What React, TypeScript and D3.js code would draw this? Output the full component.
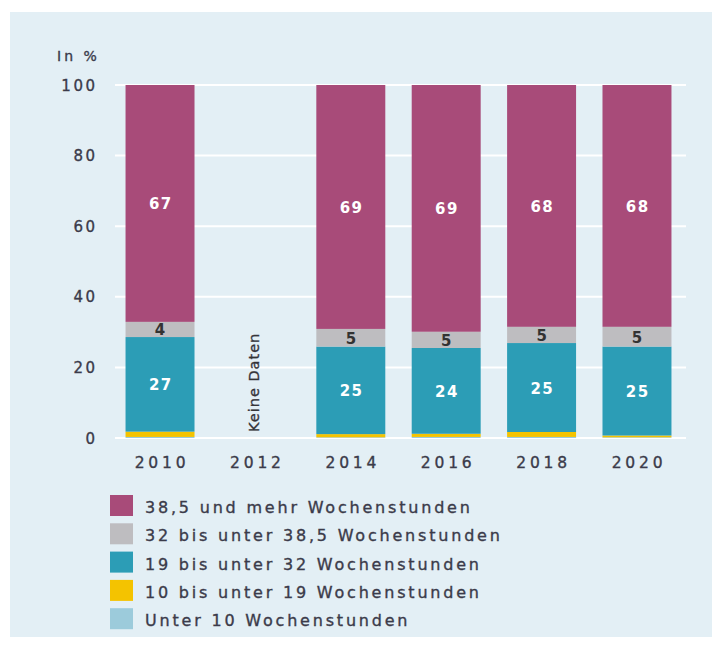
import React from "react";
import * as d3 from "d3";

const years = ["2010", "2012", "2014", "2016", "2018", "2020"];
const seriesNames = [
  "Unter 10 Wochenstunden",
  "10 bis unter 19 Wochenstunden",
  "19 bis unter 32 Wochenstunden",
  "32 bis unter 38,5 Wochenstunden",
  "38,5 und mehr Wochenstunden",
];
const under10 = [0.3, null, 0.2, 0.3, 0.3, 0.2];
const s10to19 = [1.5, null, 0.9, 0.9, 1.4, 0.5];
const s19to32 = [26.8, null, 24.8, 24.3, 25.2, 25.2];
const s32to385 = [4.3, null, 5.0, 4.6, 4.6, 5.6];
const s385plus = [67.1, null, 69.1, 69.9, 68.5, 68.5];
const labels19to32 = ["27", null, "25", "24", "25", "25"];
const labels32to385 = ["4", null, "5", "5", "5", "5"];
const labels385plus = ["67", null, "69", "69", "68", "68"];
const seriesLabels = [null, null, labels19to32, labels32to385, labels385plus];
const colors = ["#9ccbdb", "#f4c300", "#2c9db6", "#bebdc0", "#a84b79"];
const labelColors = [null, null, "#ffffff", "#333333", "#ffffff"];
const yTicks = [0, 20, 40, 60, 80, 100];
const legendOrder = [4, 3, 2, 1, 0];

export default function App() {
  const W = 712, H = 647;
  const x = d3.scaleBand().domain(years).range([116, 681]).paddingInner(0.277).paddingOuter(0.1);
  const y = d3.scaleLinear().domain([0, 100]).range([438, 85]);
  const all = [under10, s10to19, s19to32, s32to385, s385plus];
  const rows = years.map((yr, i) => {
    const r: any = { year: yr };
    all.forEach((s, k) => (r[k] = s[i] ?? 0));
    return r;
  });
  const stack = d3.stack().keys([0, 1, 2, 3, 4] as any)(rows as any);
  const font = "'DejaVu Sans', Verdana, sans-serif";
  const txt = "#3b3b4a";
  const heavy = { stroke: txt, strokeWidth: 0.35 };
  return (
    <svg width={W} height={H} style={{ position: "absolute", left: 0, top: 0, background: "#fff" }} fontFamily={font}>
      <rect x={10} y={12} width={702} height={625} fill="#e3eff5" />
      <text x={57} y={61} fontSize={14} letterSpacing={3} fill={txt} {...heavy}>In %</text>
      {yTicks.map((t) => (
        <g key={t}>
          <line x1={115} x2={686} y1={y(t)} y2={y(t)} stroke="#ffffff" strokeWidth={2} />
          <text x={97.5} y={y(t) + 5.5} textAnchor="end" fontSize={15} letterSpacing={2.5} fill={txt} {...heavy}>{t}</text>
        </g>
      ))}
      {stack.map((layer, k) => (
        <g key={k}>
          {layer.map((d, i) =>
            all[k][i] == null ? null : (
              <rect key={i} x={x(years[i])} width={x.bandwidth()} y={y(d[1])} height={y(d[0]) - y(d[1])} fill={colors[k]} />
            )
          )}
        </g>
      ))}
      {stack.map((layer, k) =>
        seriesLabels[k]
          ? layer.map((d, i) =>
              seriesLabels[k]![i] == null ? null : (
                <text key={`${k}-${i}`} x={(x(years[i]) as number) + x.bandwidth() / 2 + 0.8} y={(y(d[0]) + y(d[1])) / 2 + 6}
                  textAnchor="middle" fontSize={15} letterSpacing={1.5} fontWeight="bold" fill={labelColors[k]!}>{seriesLabels[k]![i]}</text>
              )
            )
          : null
      )}
      <text transform={`translate(${(x("2012") as number) + x.bandwidth() / 2 + 4},${432}) rotate(-90)`} fontSize={14.5} letterSpacing={1} fill="#333" {...heavy}>Keine Daten</text>
      {years.map((yr) => (
        <text key={yr} x={(x(yr) as number) + x.bandwidth() / 2 + 2} y={468} textAnchor="middle" fontSize={15.5} letterSpacing={3.8} fill={txt} {...heavy}>{yr}</text>
      ))}
      {legendOrder.map((k, j) => (
        <g key={k}>
          <rect x={110} y={495 + j * 28.3} width={23} height={21} fill={colors[k]} />
          <text x={145} y={513 + j * 28.3} fontSize={16} letterSpacing={2.8} fill={txt} {...heavy}>{seriesNames[k]}</text>
        </g>
      ))}
    </svg>
  );
}
